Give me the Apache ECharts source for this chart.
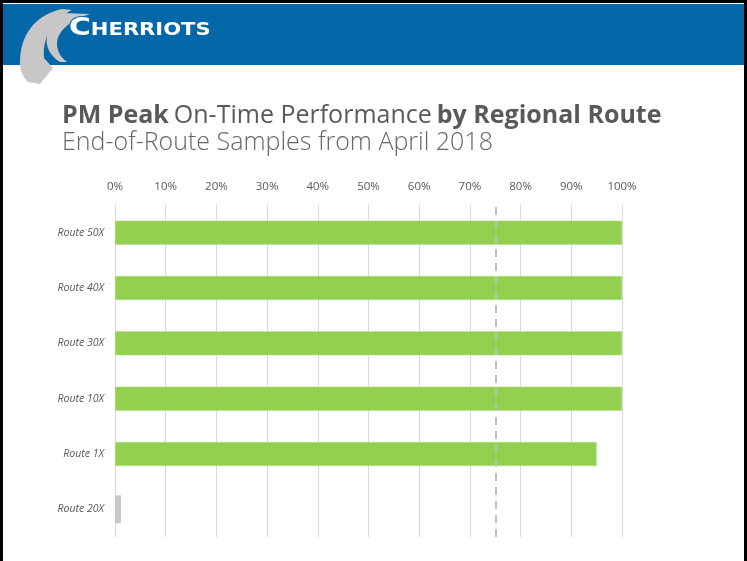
<!DOCTYPE html>
<html>
<head>
<meta charset="utf-8">
<script src="https://cdn.jsdelivr.net/npm/echarts@6/dist/echarts.min.js"></script>
<style>
  html, body { margin: 0; padding: 0; background: #fff; }
  #chart { width: 747px; height: 561px; }
</style>
</head>
<body>
<div id="chart"></div>
<script>
// Routes, listed bottom-to-top as the category axis draws them
const routes = ['Route 20X', 'Route 1X', 'Route 10X', 'Route 30X', 'Route 40X', 'Route 50X'];
// On-time share (%) for routes with samples
const onTime = [null, 95, 100, 100, 100, 100];
// Route with no end-of-route samples, shown as a small grey marker
const noSamples = [1.2, null, null, null, null, null];
// Target line
const target = 75;
// Percent ticks along the top axis
const tickValues = [0, 10, 20, 30, 40, 50, 60, 70, 80, 90, 100];

const chart = echarts.init(document.getElementById('chart'), null, { renderer: 'canvas' });

const textGrey = '#595959';
const bandBlue = '#0468A8';

// Builds a polygon outline from a list of segments: ['L', x, y] or ['C', c1x, c1y, c2x, c2y, x, y]
function outline(start, segs) {
  const pts = [start.slice()];
  let cur = start.slice();
  segs.forEach(s => {
    if (s[0] === 'L') {
      cur = [s[1], s[2]];
      pts.push(cur);
    } else {
      const [, ax, ay, bx, by, ex, ey] = s;
      for (let i = 1; i <= 16; i++) {
        const t = i / 16, u = 1 - t;
        pts.push([
          u * u * u * cur[0] + 3 * u * u * t * ax + 3 * u * t * t * bx + t * t * t * ex,
          u * u * u * cur[1] + 3 * u * u * t * ay + 3 * u * t * t * by + t * t * t * ey
        ]);
      }
      cur = [ex, ey];
    }
  });
  return pts;
}

const outerSwoosh = outline([20, 62], [
  ['C', 20, 35, 35, 15, 62, 9], ['L', 72, 10], ['C', 55, 18, 42, 35, 44, 58],
  ['L', 53, 68], ['L', 40, 84], ['L', 28, 82], ['C', 22, 76, 20, 70, 20, 62]
]);
const innerSwoosh = outline([62, 13], [
  ['L', 90, 14], ['C', 70, 20, 56, 32, 57, 45], ['C', 58, 54, 62, 58, 67, 62],
  ['L', 60, 62], ['C', 50, 56, 45, 46, 47, 36], ['C', 49, 26, 54, 18, 62, 13]
]);

chart.setOption({
  backgroundColor: '#ffffff',
  animation: false,
  title: {
    left: 62,
    top: 103,
    padding: 0,
    itemGap: 2,
    text: '{b|PM Peak} {r|On-Time Performance} {b|by Regional Route}',
    textStyle: {
      rich: {
        b: { fontFamily: 'Open Sans', fontSize: 25, fontWeight: 'bold', color: textGrey },
        r: { fontFamily: 'Open Sans', fontSize: 25, fontWeight: 'normal', color: textGrey }
      }
    },
    subtext: 'End-of-Route Samples from April 2018',
    subtextStyle: { fontFamily: 'Open Sans', fontSize: 25, fontWeight: 300, color: '#666666' }
  },
  grid: { left: 115, right: 125, top: 205, bottom: 24 },
  xAxis: {
    type: 'value',
    position: 'top',
    min: 0,
    max: 100,
    interval: 10,
    axisLine: { show: false },
    axisTick: { show: false },
    axisLabel: {
      margin: 12,
      fontFamily: 'Open Sans',
      fontSize: 11.5,
      color: textGrey,
      formatter: v => tickValues.includes(v) ? v + '%' : ''
    },
    splitLine: { show: true, lineStyle: { color: '#D9D9D9', width: 1 } }
  },
  yAxis: [{
    type: 'category',
    data: routes,
    axisLine: { show: false },
    axisTick: { show: false },
    axisLabel: {
      margin: 11,
      fontFamily: 'Open Sans',
      fontSize: 10.5,
      fontStyle: 'italic',
      color: textGrey
    }
  }, {
    type: 'category',
    data: routes,
    show: false
  }],
  series: [{
    type: 'bar',
    yAxisIndex: 0,
    data: onTime,
    barWidth: 24,
    itemStyle: { color: '#92D050', borderColor: '#B4E08A', borderWidth: 0.5 },
    markLine: {
      silent: true,
      symbol: ['none', 'none'],
      label: { show: false },
      lineStyle: { color: '#BFBFBF', type: [8, 6], width: 2 },
      data: [{ xAxis: target }]
    },
    z: 3
  }, {
    type: 'bar',
    yAxisIndex: 1,
    data: noSamples,
    barWidth: 28,
    itemStyle: { color: '#CCC7C7' },
    z: 3
  }],
  graphic: [
    // page frame
    { type: 'rect', z: 100, shape: { x: 1.5, y: 1.5, width: 744, height: 570 }, style: { fill: 'none', stroke: '#000', lineWidth: 3 } },
    // header band
    { type: 'rect', z: 50, shape: { x: 3, y: 4, width: 742, height: 61 }, style: { fill: bandBlue } },
    // logo swooshes
    { type: 'polygon', z: 51, shape: { points: outerSwoosh }, style: { fill: '#C8C6C6' } },
    { type: 'polygon', z: 51, shape: { points: innerSwoosh }, style: { fill: '#C8C6C6' } },
    // wordmark
    { type: 'text', z: 52, x: 69, y: 17, scaleX: 1.24, style: {
        text: '{c|C}{t|HERRIOTS}',
        stroke: bandBlue,
        lineWidth: 2,
        rich: {
          c: { fontFamily: 'DejaVu Sans', fontWeight: 'bold', fontSize: 24, fill: '#ffffff', stroke: bandBlue, lineWidth: 2 },
          t: { fontFamily: 'DejaVu Sans', fontWeight: 'bold', fontSize: 17, fill: '#ffffff', stroke: bandBlue, lineWidth: 2, padding: [4, 0, 0, 0] }
        }
      } }
  ]
});
</script>
</body>
</html>
